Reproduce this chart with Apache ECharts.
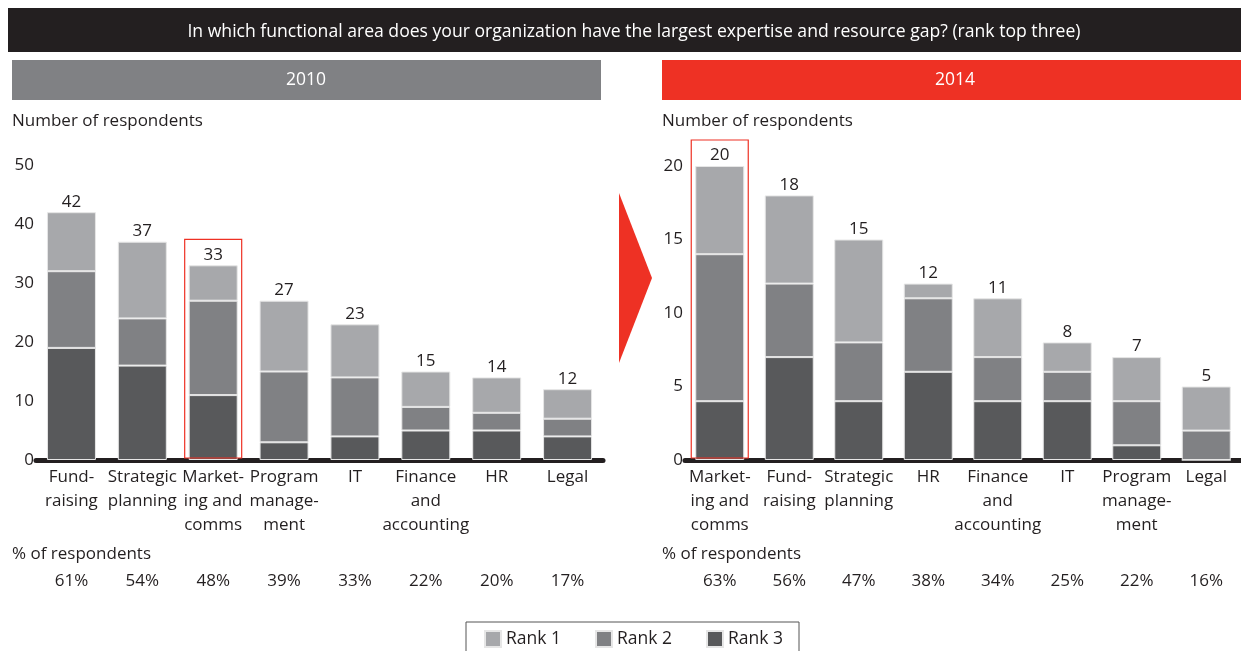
<!DOCTYPE html>
<html>
<head>
<meta charset="utf-8">
<script src="https://cdn.jsdelivr.net/npm/echarts@6/dist/echarts.min.js"></script>
<style>
html,body{margin:0;padding:0;background:#fff;}
#chart{width:1241px;height:651px;}
</style>
</head>
<body>
<div id="chart"></div>
<script>
// ---------- DATA ----------
const categories2010 = ['Fund-\nraising','Strategic\nplanning','Market-\ning and\ncomms','Program\nmanage-\nment','IT','Finance\nand\naccounting','HR','Legal'];
const rank1_2010 = [10,13,6,12,9,6,6,5];
const rank2_2010 = [13,8,16,12,10,4,3,3];
const rank3_2010 = [19,16,11,3,4,5,5,4];
const totals2010 = [42,37,33,27,23,15,14,12];
const pct2010 = ['61%','54%','48%','39%','33%','22%','20%','17%'];

const categories2014 = ['Market-\ning and\ncomms','Fund-\nraising','Strategic\nplanning','HR','Finance\nand\naccounting','IT','Program\nmanage-\nment','Legal'];
const rank1_2014 = [6,6,7,1,4,2,3,3];
const rank2_2014 = [10,5,4,5,3,2,3,2];
const rank3_2014 = [4,7,4,6,4,4,1,0];
const totals2014 = [20,18,15,12,11,8,7,5];
const pct2014 = ['63%','56%','47%','38%','34%','25%','22%','16%'];

const yTicks2010 = {min:0, max:50, interval:10};
const yTicks2014 = {min:0, max:20, interval:5};
const highlight2010 = 2;
const highlight2014 = 0;

// ---------- STYLE ----------
const FONT = 'Open Sans';
const TXT = '#231f20';
const C1 = '#a7a8ab', C2 = '#808184', C3 = '#58595b';
const RED = '#ee3124';

const chart = echarts.init(document.getElementById('chart'), null, {renderer:'canvas'});

function catAxis(gi, data, pct) {
  return [
    {type:'category', gridIndex:gi, data:data,
     axisLine:{show:true, lineStyle:{color:TXT, width:5}},
     axisTick:{show:false},
     axisLabel:{fontFamily:FONT, fontSize:17, color:TXT, lineHeight:24, margin:5, verticalAlign:'top', interval:0}},
    {type:'category', gridIndex:gi, data:pct, position:'bottom', offset:109,
     axisLine:{show:false}, axisTick:{show:false},
     axisLabel:{fontFamily:FONT, fontSize:17, color:TXT, margin:4, verticalAlign:'top', interval:0}}
  ];
}
function valAxis(gi, t) {
  return {type:'value', gridIndex:gi, min:t.min, max:t.max, interval:t.interval,
    axisLine:{show:false}, axisTick:{show:false}, splitLine:{show:false},
    axisLabel:{fontFamily:FONT, fontSize:17, color:TXT, margin:2, align:'right'}};
}
function seriesFor(gi, r1, r2, r3, totals) {
  const xi = gi*2, yi = gi;
  const common = {type:'bar', stack:'s'+gi, xAxisIndex:xi, yAxisIndex:yi, barWidth:49};
  return [
    Object.assign({}, common, {name:'Rank 3', data:r3, itemStyle:{color:C3, borderColor:'#e6e6e6', borderWidth:1}}),
    Object.assign({}, common, {name:'Rank 2', data:r2, itemStyle:{color:C2, borderColor:'#e6e6e6', borderWidth:1}}),
    Object.assign({}, common, {name:'Rank 1', data:r1, itemStyle:{color:C1, borderColor:'#e6e6e6', borderWidth:1},
      label:{show:true, position:'top', distance:2, fontFamily:FONT, fontSize:17, color:TXT,
        formatter:(p)=>String(totals[p.dataIndex])}})
  ];
}

const staticGraphics = [
  {type:'rect', id:'titleBar', shape:{x:8,y:8,width:1233,height:44}, style:{fill:TXT}},
  {type:'text', id:'titleText', x:634, y:32, style:{text:'In which functional area does your organization have the largest expertise and resource gap? (rank top three)',
    fill:'#fff', font:'17.6px "'+FONT+'"', textAlign:'center', textVerticalAlign:'middle'}},
  {type:'rect', id:'h2010', shape:{x:12,y:60,width:589,height:40}, style:{fill:C2}},
  {type:'text', id:'t2010', x:306, y:80, style:{text:'2010', fill:'#fff', font:'17.5px "'+FONT+'"', textAlign:'center', textVerticalAlign:'middle'}},
  {type:'rect', id:'h2014', shape:{x:662,y:60,width:579,height:40}, style:{fill:RED}},
  {type:'text', id:'t2014', x:955, y:80, style:{text:'2014', fill:'#fff', font:'17.5px "'+FONT+'"', textAlign:'center', textVerticalAlign:'middle'}},
  {type:'text', id:'n2010', x:12, y:121, style:{text:'Number of respondents', fill:TXT, font:'17px "'+FONT+'"', textAlign:'left', textVerticalAlign:'middle'}},
  {type:'text', id:'n2014', x:662, y:121, style:{text:'Number of respondents', fill:TXT, font:'17px "'+FONT+'"', textAlign:'left', textVerticalAlign:'middle'}},
  {type:'text', id:'p2010', x:12, y:554, style:{text:'% of respondents', fill:TXT, font:'17px "'+FONT+'"', textAlign:'left', textVerticalAlign:'middle'}},
  {type:'text', id:'p2014', x:662, y:554, style:{text:'% of respondents', fill:TXT, font:'17px "'+FONT+'"', textAlign:'left', textVerticalAlign:'middle'}},
  {type:'polygon', id:'arrow', shape:{points:[[619,193],[652,278],[619,363]]}, style:{fill:RED}}
];

const option = {
  animation:false,
  backgroundColor:'#fff',
  textStyle:{fontFamily:FONT},
  grid:[
    {left:36, width:567, top:165, bottom:191},
    {left:685, width:565, top:166, bottom:191}
  ],
  xAxis:[].concat(catAxis(0, categories2010, pct2010), catAxis(1, categories2014, pct2014)),
  yAxis:[valAxis(0, yTicks2010), valAxis(1, yTicks2014)],
  legend:{data:['Rank 1','Rank 2','Rank 3'], left:466, top:622, orient:'horizontal',
    icon:'rect', itemWidth:16, itemHeight:16, itemGap:34,
    borderColor:'#555', borderWidth:1, padding:[8,16,14,18],
    textStyle:{fontFamily:FONT, fontSize:17.5, color:TXT}},
  series:[].concat(seriesFor(0, rank1_2010, rank2_2010, rank3_2010, totals2010),
                   seriesFor(1, rank1_2014, rank2_2014, rank3_2014, totals2014)),
  graphic:staticGraphics
};
chart.setOption(option);

function boxFor(id, gi, idx, total) {
  const top = chart.convertToPixel({xAxisIndex:gi*2, yAxisIndex:gi}, [idx, total]);
  const base = chart.convertToPixel({xAxisIndex:gi*2, yAxisIndex:gi}, [idx, 0]);
  const x = top[0]-28.5, y = top[1]-26;
  return {type:'rect', id:id, z:10, shape:{x:x, y:y, width:57, height:base[1]-y-2},
    style:{fill:'none', stroke:RED, lineWidth:1.2}};
}
chart.setOption({graphic: staticGraphics.concat([
  boxFor('box2010', 0, highlight2010, totals2010[highlight2010]),
  boxFor('box2014', 1, highlight2014, totals2014[highlight2014])
])});
</script>
</body>
</html>
